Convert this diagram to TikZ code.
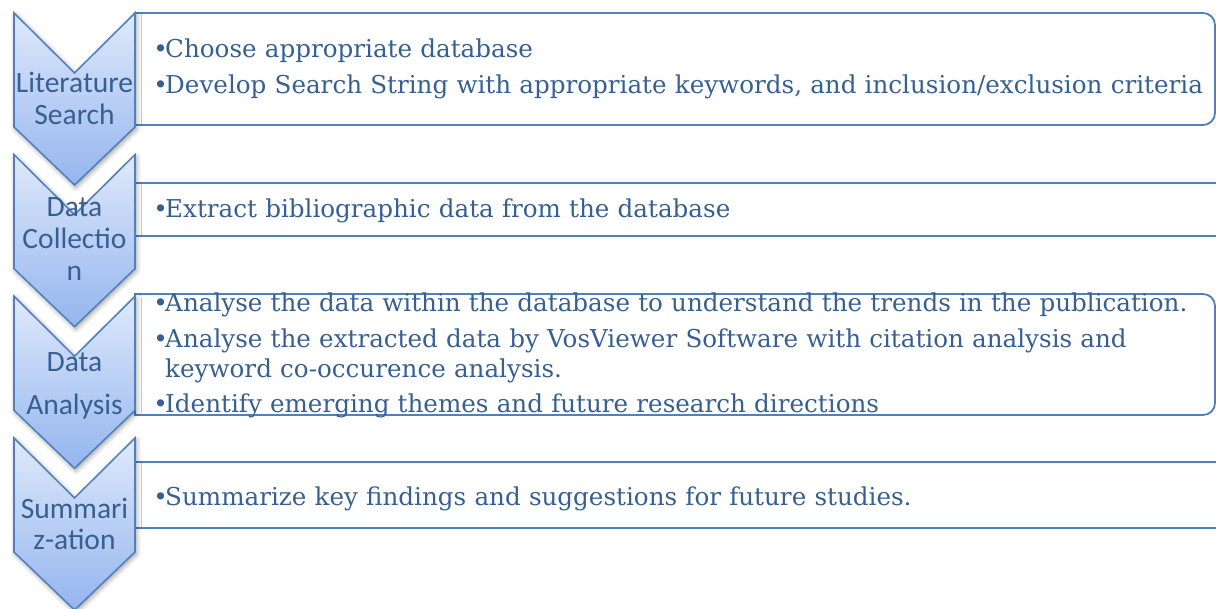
\documentclass[tikz,border=0pt]{standalone}
\usepackage{fontspec}
\setmainfont{DejaVu Serif}
\newfontfamily\labelfont{Carlito}
\usetikzlibrary{shadows.blur}

\definecolor{smartline}{RGB}{79,129,189}
\definecolor{smarttext}{RGB}{55,96,146}
\definecolor{chevtop}{RGB}{223,233,251}
\definecolor{chevbot}{RGB}{148,181,238}

% bullet with hanging indent (items are separated by \par)
\newcommand{\itm}{\hangindent=8.5pt\hangafter=1\makebox[8.5pt][l]{\textbullet}}

\tikzset{
  chevron/.style={draw=smartline, line width=1.1pt,
    top color=chevtop, bottom color=chevbot,
    blur shadow={shadow xshift=1pt, shadow yshift=-1.5pt,
      shadow blur radius=3.5pt, shadow opacity=40}},
  listbox/.style={draw=smartline, line width=1.3pt, fill=white},
  steplabel/.style={font=\labelfont\fontsize{21}{22.5}\selectfont,
    text=smarttext, text width=3.3cm, align=center,
    inner sep=0, anchor=base},
  itemtext/.style={font=\fontsize{17.5}{21.3}\selectfont,
    text=smarttext, text width=26.6cm, align=left,
    inner sep=0, anchor=base west,
    execute at begin node={\setlength{\parskip}{3.7pt}}}
}

\begin{document}
\begin{tikzpicture}[x=0.025cm, y=-0.025cm]
  \clip (0,0) rectangle (1216,609);

  % text boxes on the right
  \draw[listbox] (135,13) -- (1203,13)
    arc[start angle=-90, end angle=0, radius=12] -- (1215,113)
    arc[start angle=0, end angle=90, radius=12] -- (135,125) -- cycle;
  \draw[listbox] (135,183) rectangle (1240,236);
  \draw[listbox] (135,294) -- (1203,294)
    arc[start angle=-90, end angle=0, radius=12] -- (1215,403)
    arc[start angle=0, end angle=90, radius=12] -- (135,415) -- cycle;
  \draw[listbox] (135,462) rectangle (1240,528);

  % chevrons
  \foreach \t in {13,154.67,296.33,438}
    \path[chevron] (14,\t) -- (74.5,\t+60) -- (135,\t) -- (135,\t+114)
      -- (74.5,\t+172) -- (14,\t+114) -- cycle;

  \node[steplabel] (lit-lbl) at (74.5,93) {Literature\\Search};
  \node[steplabel] (coll-lbl) at (74.5,217) {Data\\Collectio\\n};
  \node[steplabel] (anal-lbl) at (74.5,372) {Data\\[8pt]Analysis};
  \node[steplabel] (sum-lbl) at (74.5,518) {Summari\\z-ation};

  \node[itemtext] (lit-items) at (153,58) {\itm Choose appropriate database\par
    \itm Develop Search String with appropriate keywords, and inclusion/exclusion criteria};
  \node[itemtext] (coll-items) at (153,218) {\itm Extract bibliographic data from the database};
  \node[itemtext] (anal-items) at (153,312) {\itm Analyse the data within the database to understand the trends in the publication.\par
    \itm Analyse the extracted data by VosViewer Software with citation analysis and\newline keyword co-occurence analysis.\par
    \itm Identify emerging themes and future research directions};
  \node[itemtext] (sum-items) at (153,505) {\itm Summarize key findings and suggestions for future studies.};
\end{tikzpicture}
\end{document}
